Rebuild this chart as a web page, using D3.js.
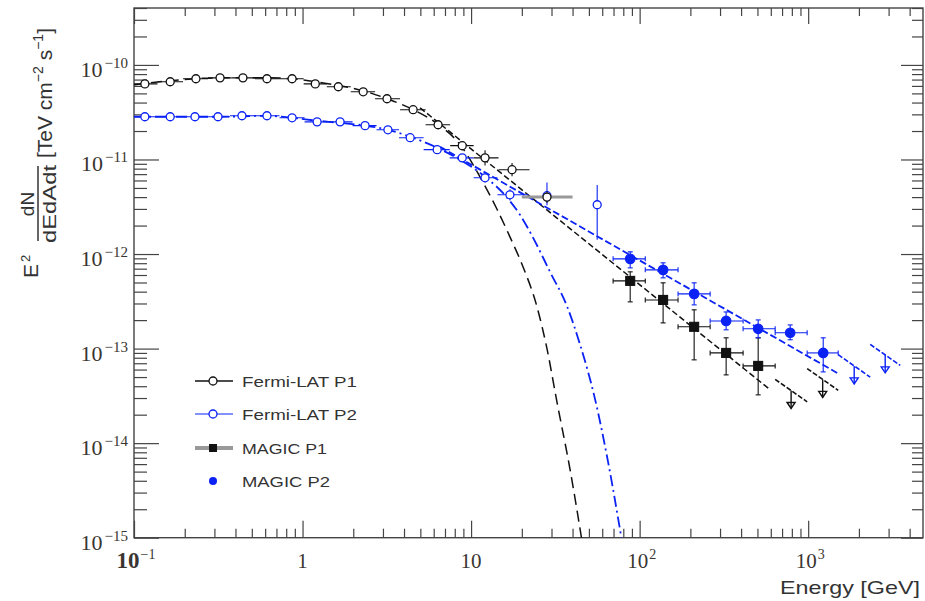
<!DOCTYPE html>
<html><head><meta charset="utf-8">
<script src="https://cdn.jsdelivr.net/npm/d3@7"></script>
<style>body{margin:0;background:#fff}</style>
</head><body>
<svg id="c" width="925" height="601"></svg>
<script>
// ---------------- data ----------------
const fermiP1E = [0.116,0.164,0.233,0.324,0.443,0.615,0.867,1.19,1.63,2.29,3.17,4.53,6.37,8.86,12.1,17.5,28.2];
const fermiP1F = [6.3e-11,6.64e-11,7.14e-11,7.3e-11,7.3e-11,7.14e-11,7.14e-11,6.3e-11,5.88e-11,5.2e-11,4.39e-11,3.36e-11,2.33e-11,1.40e-11,1.04e-11,7.8e-12,4.0e-12];
const fermiP1ErrDex = [0.02,0.02,0.02,0.02,0.02,0.02,0.02,0.02,0.02,0.02,0.03,0.03,0.04,0.05,0.08,0.07,0.06];
const fermiP1LastBin = [20, 40];

const fermiP2E = [0.116,0.164,0.230,0.315,0.437,0.615,0.867,1.22,1.67,2.35,3.21,4.35,6.29,8.86,12.1,17.0,28.2,56.0];
const fermiP2F = [2.83e-11,2.83e-11,2.83e-11,2.83e-11,2.9e-11,2.9e-11,2.76e-11,2.5e-11,2.5e-11,2.28e-11,2.06e-11,1.70e-11,1.27e-11,1.04e-11,6.4e-12,4.23e-12,4.14e-12,3.32e-12];
const fermiP2ErrUp = [0.02,0.02,0.02,0.02,0.02,0.02,0.02,0.02,0.02,0.02,0.02,0.02,0.03,0.04,0.05,0.06,0.14,0.21];
const fermiP2ErrDn = [0.02,0.02,0.02,0.02,0.02,0.02,0.02,0.02,0.02,0.02,0.02,0.02,0.03,0.04,0.05,0.06,0.10,0.37];
const fermiP2BinCount = 16; // points with an energy-bin bar

const magicBinEdges = [69.6,108,169,262,411,637,986,1507,2333,3517];
const magicP1E  = [87.9,137.8,210.6,326,505];
const magicP1F  = [5.2e-13,3.27e-13,1.70e-13,9.0e-14,6.56e-14];
const magicP1Lo = [3.12e-13,1.87e-13,7.6e-14,5.27e-14,3.24e-14];
const magicP1Hi = [6.48e-13,4.96e-13,2.57e-13,1.30e-13,1.30e-13];
const magicP1ULE = [792,1219];
const magicP1ULF = [3.6e-14,4.72e-14];

const magicP2E  = [87.9,137.8,210.6,326,505,782,1228];
const magicP2F  = [8.89e-13,6.8e-13,3.79e-13,1.96e-13,1.62e-13,1.47e-13,9.0e-14];
const magicP2Lo = [7.14e-13,5.6e-13,2.9e-13,1.58e-13,1.30e-13,1.24e-13,5.67e-14];
const magicP2Hi = [1.055e-12,8.07e-13,4.96e-13,2.44e-13,2.01e-13,1.78e-13,1.30e-13];
const magicP2ULE = [1875,2864];
const magicP2ULF = [6.56e-14,8.58e-14];
const ulSlope = -1.25;

const fitP1CutE = [0.1,0.164,0.324,0.615,0.867,1.19,1.67,2.29,3.17,4.53,6.29,8.61,11.8,14.3,17.0,20.1,24.7,28.3,32.4,38.7,45.6];
const fitP1CutF = [6.17e-11,6.8e-11,7.3e-11,7.3e-11,7.14e-11,6.64e-11,6.03e-11,5.33e-11,4.39e-11,3.36e-11,2.39e-11,1.43e-11,5.67e-12,2.94e-12,1.52e-12,7.69e-13,2.7e-13,9.68e-14,2.66e-14,5.2e-15,9e-16];
const fitP2CutE = [0.1,0.315,0.615,0.867,1.22,1.67,2.35,3.21,4.35,6.29,8.61,12.1,16.4,19.5,23.0,29.4,37.2,44.4,54.5,65.0,78.7];
const fitP2CutF = [2.83e-11,2.83e-11,2.9e-11,2.76e-11,2.57e-11,2.44e-11,2.28e-11,2.06e-11,1.74e-11,1.33e-11,9.93e-12,6.56e-12,3.93e-12,2.6e-12,1.56e-12,6.48e-13,2.76e-13,1.09e-13,2.87e-14,6.3e-15,9e-16];
const fitP1PLE = [4.98,596];
const fitP1PLF = [3.52e-11,3.66e-14];
const fitP2PLE = [6.55,1486];
const fitP2PLF = [1.36e-11,5.53e-14];

const xTickLabels = [{v:0.1,b:"10",e:"-1",bold:true},{v:1,b:"1",e:""},{v:10,b:"10",e:""},{v:100,b:"10",e:"2"},{v:1000,b:"10",e:"3"}];
const yTickLabels = [{v:1e-10,e:"-10"},{v:1e-11,e:"-11"},{v:1e-12,e:"-12"},{v:1e-13,e:"-13"},{v:1e-14,e:"-14"},{v:1e-15,e:"-15"}];
const legendItems = ["Fermi-LAT P1","Fermi-LAT P2","MAGIC P1","MAGIC P2"];

// ---------------- chart ----------------
const BLUE = "#0b22f5", BLACK = "#111";
const svg = d3.select("#c");
const m = {left:134, right:923, top:8, bottom:537.7};
const x = d3.scaleLog().domain([0.1, 4800]).range([m.left, m.right]);
const y = d3.scaleLog().domain([1e-15, 4e-10]).range([m.bottom, m.top]);
const dex = (v, d) => v * Math.pow(10, d);

svg.append("defs").append("clipPath").attr("id","clip")
  .append("rect").attr("x",m.left).attr("y",m.top).attr("width",m.right-m.left).attr("height",m.bottom-m.top);

// axes ticks
const isMajor = v => Math.abs(Math.log10(v) - Math.round(Math.log10(v))) < 1e-6;
const xt = x.ticks(), yt = y.ticks();
const xMaj = xt.filter(isMajor), xMin = xt.filter(v=>!isMajor(v));
const yMaj = yt.filter(isMajor), yMin = yt.filter(v=>!isMajor(v));
function tickG(axis, tr){
  const g = svg.append("g").attr("transform", tr).call(axis);
  g.select(".domain").remove();
  g.selectAll("line").attr("stroke","#444").attr("stroke-width",1.2);
  g.selectAll("text").remove();
}
tickG(d3.axisTop(x).tickValues(xMin).tickSize(9), `translate(0,${m.bottom})`);
tickG(d3.axisTop(x).tickValues(xMaj).tickSize(17), `translate(0,${m.bottom})`);
tickG(d3.axisBottom(x).tickValues(xMin).tickSize(8), `translate(0,${m.top})`);
tickG(d3.axisBottom(x).tickValues(xMaj).tickSize(16), `translate(0,${m.top})`);
tickG(d3.axisRight(y).tickValues(yMin).tickSize(13), `translate(${m.left},0)`);
tickG(d3.axisRight(y).tickValues(yMaj).tickSize(25), `translate(${m.left},0)`);
tickG(d3.axisLeft(y).tickValues(yMin).tickSize(11), `translate(${m.right},0)`);
tickG(d3.axisLeft(y).tickValues(yMaj).tickSize(22), `translate(${m.right},0)`);

// frame
svg.append("rect").attr("x",m.left).attr("y",m.top).attr("width",m.right-m.left).attr("height",m.bottom-m.top)
  .attr("fill","none").attr("stroke","#444").attr("stroke-width",1.4);

// tick labels
const lab = svg.append("g").attr("font-family","'Liberation Serif','Times New Roman',serif").attr("fill","#3a3530");
yTickLabels.forEach(t=>{
  const tx = lab.append("text").attr("x",128).attr("y",y(t.v)+12).attr("text-anchor","end").attr("font-size",22);
  tx.append("tspan").text("10");
  tx.append("tspan").attr("dx",2).attr("dy",-9).attr("font-size",15).text(t.e.replace("-","\u2212"));
});
xTickLabels.forEach(t=>{
  const tx = lab.append("text").attr("x",x(t.v)+(t.e?2:0)).attr("y",568).attr("text-anchor","middle")
    .attr("font-size",t.bold?23:21).attr("font-weight",t.bold?"bold":"normal");
  tx.append("tspan").text(t.b);
  if (t.e) tx.append("tspan").attr("dx",1).attr("dy",-9).attr("font-size",14).attr("font-weight","normal").text(t.e.replace("-","\u2212"));
});

// axis titles
const ttl = svg.append("g").attr("font-family","'Liberation Sans',Arial,sans-serif").attr("fill","#333");
ttl.append("text").attr("x",920).attr("y",594).attr("text-anchor","end").attr("font-size",19)
  .attr("textLength",140).attr("lengthAdjust","spacingAndGlyphs").text("Energy [GeV]");
ttl.append("text").attr("transform","translate(38,278) rotate(-90)").attr("font-size",21).text("E");
ttl.append("text").attr("transform","translate(30,262) rotate(-90)").attr("font-size",13).text("2");
ttl.append("text").attr("transform","translate(34,204) rotate(-90)").attr("text-anchor","middle").attr("font-size",19).text("dN");
ttl.append("line").attr("x1",38).attr("x2",38).attr("y1",166).attr("y2",241).attr("stroke","#333").attr("stroke-width",1.5);
ttl.append("text").attr("transform","translate(56,204) rotate(-90)").attr("text-anchor","middle").attr("font-size",19)
  .attr("textLength",78).attr("lengthAdjust","spacingAndGlyphs").text("dEdAdt");
const br = ttl.append("text").attr("transform","translate(52,158) rotate(-90)").attr("font-size",21);
br.append("tspan").text("[TeV cm");
br.append("tspan").attr("dy",-9).attr("font-size",14).text("\u22122");
br.append("tspan").attr("dy",9).text(" s");
br.append("tspan").attr("dy",-9).attr("font-size",14).text("\u22121");
br.append("tspan").attr("dy",9).text("]");

// curves
const plot = svg.append("g").attr("clip-path","url(#clip)");
const line = d3.line().x(d=>x(d[0])).y(d=>y(d[1])).curve(d3.curveMonotoneX);
const zip = (a,b)=>a.map((v,i)=>[v,b[i]]);
plot.append("path").attr("d",line(zip(fitP1CutE,fitP1CutF))).attr("fill","none").attr("stroke",BLACK).attr("stroke-width",1.5).attr("stroke-dasharray","11,6");
plot.append("path").attr("d",line(zip(fitP2CutE,fitP2CutF))).attr("fill","none").attr("stroke",BLUE).attr("stroke-width",1.8).attr("stroke-dasharray","11,4,2,4");
plot.append("path").attr("d",line(zip(fitP1PLE,fitP1PLF))).attr("fill","none").attr("stroke",BLACK).attr("stroke-width",1.5).attr("stroke-dasharray","6,3");
plot.append("path").attr("d",line(zip(fitP2PLE,fitP2PLF))).attr("fill","none").attr("stroke",BLUE).attr("stroke-width",1.8).attr("stroke-dasharray","7,3");

// Fermi points
function binEdges(E, i){
  const lo = i>0 ? Math.sqrt(E[i-1]*E[i]) : E[i]*E[i]/Math.sqrt(E[i]*E[i+1]);
  const hi = i<E.length-1 ? Math.sqrt(E[i]*E[i+1]) : E[i]*E[i]/lo;
  return [lo,hi];
}
function fermi(E,F,up,dn,color,nBins,lastBin){
  const g = plot.append("g").attr("stroke",color).attr("stroke-width",1.1);
  E.forEach((e,i)=>{
    let bin = null;
    if (i < nBins) bin = (lastBin && i===E.length-1) ? lastBin : binEdges(E,i);
    if (bin) g.append("line").attr("x1",x(bin[0])).attr("x2",x(bin[1])).attr("y1",y(F[i])).attr("y2",y(F[i]))
      .attr("stroke", (lastBin && i===E.length-1) ? "#999" : color).attr("stroke-width",(lastBin && i===E.length-1)?3:1.1);
    g.append("line").attr("x1",x(e)).attr("x2",x(e)).attr("y1",y(dex(F[i],up[i]))).attr("y2",y(dex(F[i],-dn[i])));
  });
  g.selectAll("circle.m").data(E).join("circle").attr("cx",d=>x(d)).attr("cy",(d,i)=>y(F[i])).attr("r",4)
    .attr("fill","#fff").attr("stroke",color).attr("stroke-width",1.3);
}
fermi(fermiP2E,fermiP2F,fermiP2ErrUp,fermiP2ErrDn,BLUE,fermiP2BinCount,null);
fermi(fermiP1E,fermiP1F,fermiP1ErrDex,fermiP1ErrDex,BLACK,fermiP1E.length,fermiP1LastBin);

// MAGIC points
function binOf(e){ for(let i=0;i<magicBinEdges.length-1;i++) if(e>=magicBinEdges[i]&&e<magicBinEdges[i+1]) return [magicBinEdges[i],magicBinEdges[i+1]]; return [e,e]; }
function magic(E,F,Lo,Hi,ulE,ulF,color,square){
  const g = plot.append("g").attr("stroke",color).attr("stroke-width",1.1);
  E.forEach((e,i)=>{
    const b = binOf(e), cy = y(F[i]);
    g.append("line").attr("x1",x(b[0])).attr("x2",x(b[1])).attr("y1",cy).attr("y2",cy);
    g.append("line").attr("x1",x(e)).attr("x2",x(e)).attr("y1",y(Hi[i])).attr("y2",y(Lo[i]));
    [b[0],b[1]].forEach(v=>g.append("line").attr("x1",x(v)).attr("x2",x(v)).attr("y1",cy-2.5).attr("y2",cy+2.5));
    [Hi[i],Lo[i]].forEach(v=>g.append("line").attr("x1",x(e)-2.5).attr("x2",x(e)+2.5).attr("y1",y(v)).attr("y2",y(v)));
  });
  if (square) g.selectAll("rect.m").data(E).join("rect").attr("x",d=>x(d)-4.5).attr("y",(d,i)=>y(F[i])-4.5).attr("width",9).attr("height",9).attr("fill",color);
  else g.selectAll("circle.m").data(E).join("circle").attr("cx",d=>x(d)).attr("cy",(d,i)=>y(F[i])).attr("r",4.8).attr("fill",color);
  ulE.forEach((e,i)=>{
    const b = binOf(e);
    const f0 = ulF[i]*Math.pow(b[0]/e, ulSlope), f1 = ulF[i]*Math.pow(b[1]/e, ulSlope);
    g.append("line").attr("x1",x(b[0])).attr("x2",x(b[1])).attr("y1",y(f0)).attr("y2",y(f1)).attr("stroke-width",1.6).attr("stroke-dasharray","5,2");
    const y0 = y(ulF[i]), y1 = y(dex(ulF[i],-0.19));
    g.append("line").attr("x1",x(e)).attr("x2",x(e)).attr("y1",y0).attr("y2",y1).attr("stroke-width",1.4);
    g.append("path").attr("d",`M${x(e)-4},${y1-6}L${x(e)},${y1}L${x(e)+4},${y1-6}Z`).attr("fill","none").attr("stroke-width",1.4);
  });
}
magic(magicP1E,magicP1F,magicP1Lo,magicP1Hi,magicP1ULE,magicP1ULF,BLACK,true);
magic(magicP2E,magicP2F,magicP2Lo,magicP2Hi,magicP2ULE,magicP2ULF,BLUE,false);

// legend
const lg = svg.append("g").attr("font-family","'Liberation Sans',Arial,sans-serif").attr("font-size",15).attr("fill","#333");
const rows = [381,414,448,481];
const widths = [115,115,85,88];
legendItems.forEach((t,i)=>{
  const yy = rows[i];
  if (i===0 || i===1){
    const c = i===0?BLACK:BLUE;
    lg.append("line").attr("x1",195).attr("x2",233).attr("y1",yy).attr("y2",yy).attr("stroke",c).attr("stroke-width",i===0?1.3:1);
    lg.append("circle").attr("cx",213).attr("cy",yy).attr("r",4).attr("fill","#fff").attr("stroke",c).attr("stroke-width",1.3);
  } else if (i===2){
    lg.append("line").attr("x1",195).attr("x2",233).attr("y1",yy).attr("y2",yy).attr("stroke","#999").attr("stroke-width",4);
    lg.append("rect").attr("x",209).attr("y",yy-4).attr("width",8).attr("height",8).attr("fill",BLACK);
  } else {
    lg.append("circle").attr("cx",213).attr("cy",yy).attr("r",4).attr("fill",BLUE);
  }
  lg.append("text").attr("x",242).attr("y",yy+5.5).attr("textLength",widths[i]).attr("lengthAdjust","spacingAndGlyphs").text(t);
});
</script>
</body></html>
